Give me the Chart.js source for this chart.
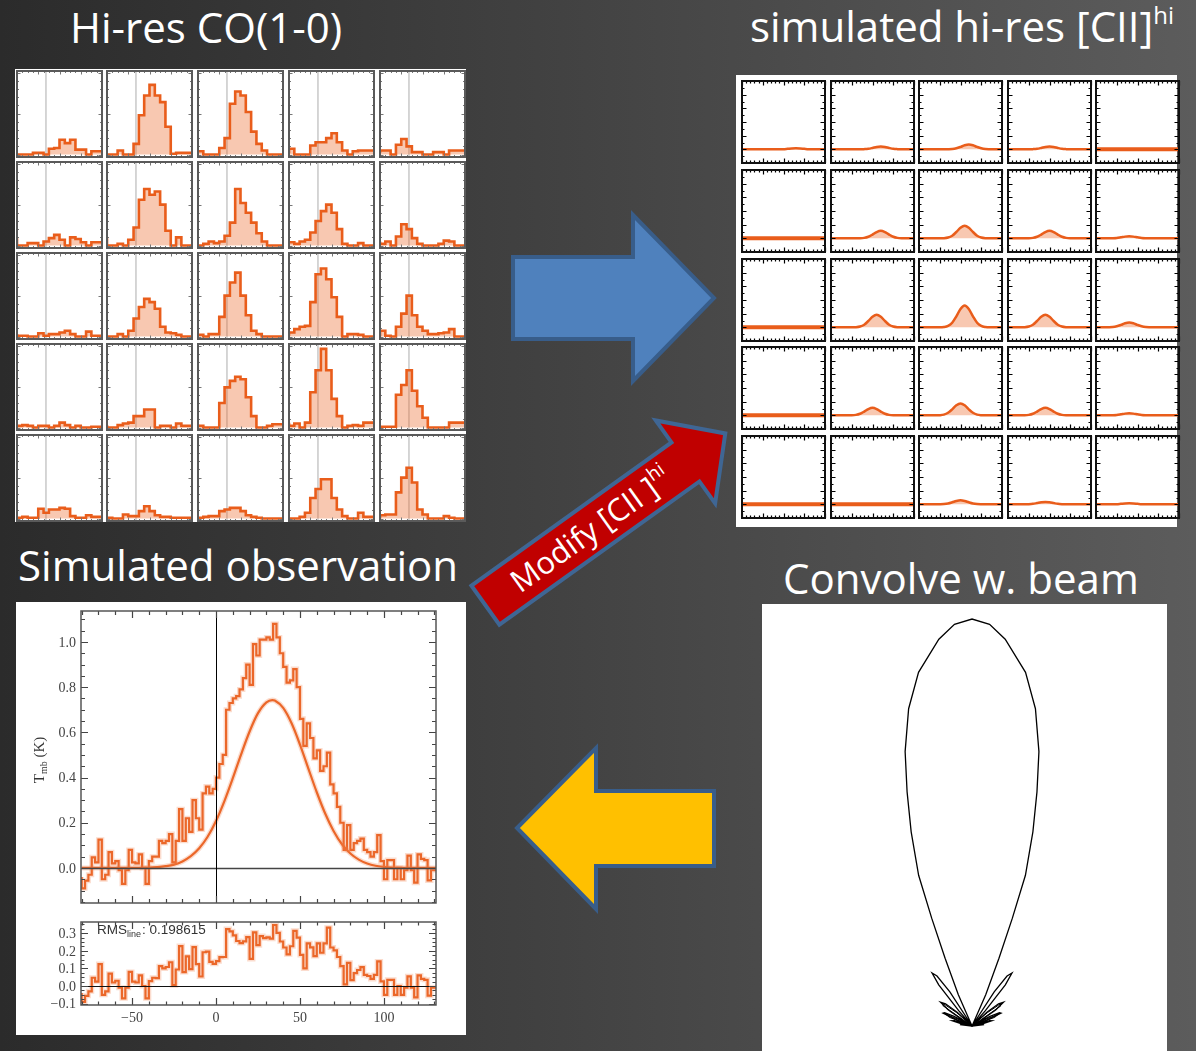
<!DOCTYPE html>
<html lang="en">
<head>
<meta charset="utf-8">
<title>[CII] line modelling</title>
<script src="https://cdn.jsdelivr.net/npm/chart.js"></script>
<style>
  html, body { margin: 0; padding: 0; }
  body {
    position: relative; width: 1196px; height: 1051px; overflow: hidden;
    background: linear-gradient(90deg, #2b2b2b 0%, #5c5c5c 100%);
  }
  .panel { position: absolute; background: #fff; }
  canvas { position: absolute; }
  #deco { position: absolute; left: 0; top: 0; }
  #deco text { font-family: 'Open Sans', sans-serif; fill: #fff; }
</style>
</head>
<body>
<svg id="deco" width="1196" height="1051">
  <text x="70" y="43" font-size="42">Hi-res CO(1-0)</text>
  <text x="750" y="42" font-size="42">simulated hi-res [CII]<tspan font-size="24" dy="-18">hi</tspan></text>
  <text x="18" y="581" font-size="42">Simulated observation</text>
  <text x="783" y="594" font-size="42">Convolve w. beam</text>
  <polygon points="513,257 633,257 633,215 714,298 633,381 633,339 513,339" fill="#4f81bd" stroke="#385d8a" stroke-width="4"/>
  <polygon points="714,791 596,791 596,748 517,828 596,909 596,866 714,866" fill="#ffc000" stroke="#385d8a" stroke-width="4"/>
  <g transform="translate(483.8 606.3) rotate(-35.6)">
    <polygon points="2,-24 248,-24 248,-51 297,0 248,51 248,24 2,24" fill="#c00000" stroke="#3f6694" stroke-width="4"/>
    <text x="37" y="11" font-size="31">Modify [CII ]<tspan font-size="19" dy="-14">hi</tspan></text>
  </g>
</svg>
<div class="panel" style="left:15px;top:69px;width:451px;height:453px"></div>
<div class="panel" style="left:736px;top:75px;width:441px;height:452px"></div>
<div class="panel" style="left:16px;top:602px;width:450px;height:433px"></div>
<div class="panel" style="left:762px;top:604px;width:405px;height:447px"></div>
<script>
// ---- hi-res CO(1-0) spectra, 5x5 map, 16 channels each (fraction of panel height)
const coZeroChan = 5.45;
const coRow1 = [
  [0.01, 0, 0, 0, 0.02, 0.02, 0, 0.07, 0.08, 0.18, 0.14, 0.18, 0.06, 0.06, 0, 0.04],
  [0, 0, 0, 0.05, 0, 0, 0.13, 0.48, 0.72, 0.85, 0.72, 0.64, 0.34, 0.01, 0.02, 0.02],
  [0.04, 0.04, 0, 0, 0, 0.08, 0.2, 0.62, 0.77, 0.72, 0.52, 0.28, 0.13, 0.05, 0, 0],
  [0.02, 0.07, 0, 0, 0, 0.11, 0.15, 0.15, 0.2, 0.26, 0.15, 0.05, 0, 0.04, 0.05, 0.05],
  [0.02, 0.05, 0.05, 0, 0.12, 0.19, 0.1, 0.03, 0.03, 0, 0, 0.03, 0.03, 0, 0.05, 0.05]
];
const coRow2 = [
  [0.09, 0, 0, 0.03, 0.03, 0, 0.05, 0.09, 0.13, 0.07, 0, 0.1, 0.08, 0.04, 0, 0.04],
  [0.09, 0, 0, 0.02, 0, 0.07, 0.22, 0.56, 0.69, 0.62, 0.66, 0.5, 0.18, 0, 0.1, 0],
  [0, 0, 0.02, 0.05, 0.03, 0.05, 0.12, 0.28, 0.69, 0.52, 0.4, 0.28, 0.15, 0.05, 0, 0],
  [0.05, 0.04, 0.02, 0.05, 0.07, 0.16, 0.3, 0.42, 0.5, 0.4, 0.2, 0.02, 0, 0, 0.03, 0],
  [0.05, 0.02, 0.05, 0, 0.11, 0.26, 0.2, 0.09, 0.02, 0, 0, 0, 0.02, 0.06, 0.05, 0]
];
const coRow3 = [
  [0.03, 0.01, 0.01, 0, 0, 0.04, 0.01, 0.03, 0.03, 0.05, 0.07, 0.03, 0, 0, 0.06, 0.01],
  [0, 0, 0, 0.03, 0, 0.07, 0.22, 0.36, 0.46, 0.42, 0.34, 0.12, 0.05, 0.04, 0.02, 0],
  [0.02, 0.02, 0, 0.03, 0.03, 0.24, 0.5, 0.66, 0.78, 0.5, 0.26, 0.07, 0.03, 0, 0, 0],
  [0.01, 0.05, 0.09, 0.12, 0.13, 0.42, 0.76, 0.83, 0.7, 0.48, 0.24, 0, 0.03, 0.03, 0.02, 0],
  [0, 0.07, 0.01, 0, 0.12, 0.28, 0.5, 0.26, 0.12, 0.07, 0.03, 0.03, 0.04, 0.05, 0.09, 0]
];
const coRow4 = [
  [0, 0.02, 0.03, 0.02, 0, 0.02, 0.02, 0, 0.02, 0.06, 0.03, 0, 0.02, 0, 0, 0.01],
  [0.03, 0, 0, 0.03, 0.05, 0.06, 0.14, 0.14, 0.22, 0.22, 0, 0.02, 0.02, 0, 0.05, 0.02],
  [0.04, 0.02, 0, 0, 0, 0.3, 0.49, 0.57, 0.62, 0.59, 0.37, 0.14, 0, 0, 0.02, 0.04],
  [0.06, 0.02, 0.05, 0, 0.06, 0.43, 0.7, 0.96, 0.7, 0.35, 0.14, 0, 0.02, 0.03, 0.02, 0.06],
  [0.01, 0.01, 0.01, 0.01, 0.4, 0.52, 0.7, 0.45, 0.26, 0.12, 0, 0, 0, 0, 0.06, 0.06]
];
const coRow5 = [
  [0.01, 0.01, 0.02, 0.01, 0.01, 0.12, 0.07, 0.11, 0.11, 0.13, 0.12, 0.03, 0.01, 0.01, 0.04, 0.02],
  [0.02, 0.01, 0, 0, 0.05, 0.03, 0.03, 0.09, 0.15, 0.09, 0.04, 0.02, 0.02, 0.01, 0.01, 0.01],
  [0.01, 0.01, 0.02, 0.03, 0.03, 0.09, 0.11, 0.13, 0.13, 0.09, 0.04, 0.02, 0.01, 0, 0, 0],
  [0, 0, 0, 0.02, 0.07, 0.25, 0.36, 0.48, 0.48, 0.25, 0.11, 0.03, 0, 0, 0.07, 0.02],
  [0, 0.04, 0.05, 0.05, 0.32, 0.5, 0.62, 0.44, 0.11, 0.05, 0, 0, 0, 0.03, 0.01, 0]
];

// ---- simulated hi-res [CII] profiles, sampled every 0.05 of the band
const ciiX = [0, 0.05, 0.1, 0.15, 0.2, 0.25, 0.3, 0.35, 0.4, 0.45, 0.5, 0.55, 0.6, 0.65, 0.7, 0.75, 0.8, 0.85, 0.9, 0.95, 1];
const ciiFlat = [0, 0, 0, 0, 0, 0, 0, 0, 0, 0, 0, 0, 0, 0, 0, 0, 0, 0, 0, 0, 0];
const ciiRow1 = [
  [0, 0, 0, 0, 0, 0, 0, 0, 0, .001, .003, .008, .013, .015, .013, .008, .003, .001, 0, 0, 0],
  [0, 0, 0, 0, 0, 0, 0, .001, .003, .008, .02, .034, .04, .034, .02, .008, .003, .001, 0, 0, 0],
  [0, 0, 0, 0, 0, 0, 0, .001, .004, .015, .035, .059, .07, .059, .035, .015, .004, .001, 0, 0, 0],
  [0, 0, 0, 0, 0, .001, .003, .008, .02, .034, .04, .034, .02, .008, .003, .001, 0, 0, 0, 0, 0],
  ciiFlat
];
const ciiRow2 = [
  ciiFlat,
  [0, 0, 0, 0, 0, 0, 0, .001, .007, .023, .055, .092, .11, .092, .055, .023, .007, .001, 0, 0, 0],
  [0, 0, 0, 0, 0, 0, .002, .012, .039, .093, .155, .185, .155, .093, .039, .012, .002, 0, 0, 0, 0],
  [0, 0, 0, 0, 0, .001, .007, .023, .055, .092, .11, .092, .055, .023, .007, .001, 0, 0, 0, 0, 0],
  [0, 0, 0, 0, .002, .006, .015, .025, .03, .025, .015, .006, .002, 0, 0, 0, 0, 0, 0, 0, 0]
];
const ciiRow3 = [
  ciiFlat,
  [0, 0, 0, 0, 0, 0, .002, .012, .039, .093, .155, .185, .155, .093, .039, .012, .002, 0, 0, 0, 0],
  [0, 0, 0, 0, 0, 0, .004, .02, .067, .16, .269, .32, .269, .16, .067, .02, .004, 0, 0, 0, 0],
  [0, 0, 0, 0, .002, .012, .039, .093, .155, .185, .155, .093, .039, .012, .002, 0, 0, 0, 0, 0, 0],
  [0, 0, 0, .001, .004, .015, .035, .059, .07, .059, .035, .015, .004, .001, 0, 0, 0, 0, 0, 0, 0]
];
const ciiRow4 = [
  ciiFlat,
  [0, 0, 0, 0, 0, .001, .007, .023, .055, .092, .11, .092, .055, .023, .007, .001, 0, 0, 0, 0, 0],
  [0, 0, 0, 0, 0, .002, .011, .037, .088, .147, .175, .147, .088, .037, .011, .002, 0, 0, 0, 0, 0],
  [0, 0, 0, 0, .001, .007, .023, .055, .092, .11, .092, .055, .023, .007, .001, 0, 0, 0, 0, 0, 0],
  [0, 0, 0, 0, .002, .006, .015, .025, .03, .025, .015, .006, .002, 0, 0, 0, 0, 0, 0, 0, 0]
];
const ciiRow5 = [
  ciiFlat,
  ciiFlat,
  [0, 0, 0, 0, 0, .001, .004, .013, .03, .05, .06, .05, .03, .013, .004, .001, 0, 0, 0, 0, 0],
  [0, 0, 0, 0, 0, .002, .007, .018, .029, .035, .029, .018, .007, .002, 0, 0, 0, 0, 0, 0, 0],
  [0, 0, 0, 0, .001, .003, .008, .013, .015, .013, .008, .003, .001, 0, 0, 0, 0, 0, 0, 0, 0]
];

// ---- simulated observation: 2 km/s channels starting at -80 km/s
const chanStart = -80;
const chanWidth = 2;
const obsTmb = [
  -0.04, -0.09, -0.056, -0.03, 0.047, 0.025, 0.125, -0.05, -0.03, 0.07,
  0.02, 0.03, -0.01, -0.07, -0.01, 0.08, 0.025, 0.02, 0.06, 0.0,
  -0.07, 0.03, 0.05, 0.05, 0.12, 0.11, 0.12, 0.15, 0.025, 0.12,
  0.26, 0.12, 0.22, 0.16, 0.30, 0.22, 0.17, 0.33, 0.36, 0.33,
  0.35, 0.40, 0.46, 0.50, 0.70, 0.73, 0.75, 0.76, 0.79, 0.84,
  0.90, 0.81, 0.99, 0.94, 1.01, 1.01, 1.02, 1.01, 1.08, 1.02,
  0.95, 0.89, 0.82, 0.83, 0.88, 0.80, 0.66, 0.54, 0.64, 0.575,
  0.485, 0.52, 0.43, 0.45, 0.51, 0.37, 0.33, 0.27, 0.20, 0.08,
  0.19, 0.08, 0.11, 0.12, 0.13, 0.08, 0.07, 0.05, 0.07, 0.145,
  0.03, -0.05, 0.035, 0.035, -0.05, 0.0, -0.05, -0.01, 0.055, -0.01,
  -0.065, 0.06, 0.04, 0.035, -0.055, -0.01
];
const residTmb = [
  -0.04, -0.09, -0.056, -0.03, 0.047, 0.025, 0.125, -0.05, -0.03, 0.07,
  0.02, 0.03, -0.01, -0.07, -0.01, 0.08, 0.025, 0.02, 0.06, 0.0,
  -0.07, 0.028, 0.047, 0.045, 0.113, 0.10, 0.108, 0.135, 0.005, 0.094,
  0.227, 0.079, 0.168, 0.096, 0.221, 0.124, 0.054, 0.192, 0.196, 0.137,
  0.126, 0.141, 0.164, 0.165, 0.324, 0.311, 0.288, 0.256, 0.244, 0.254,
  0.278, 0.154, 0.305, 0.232, 0.284, 0.272, 0.277, 0.269, 0.347, 0.302,
  0.253, 0.219, 0.18, 0.226, 0.314, 0.275, 0.177, 0.10, 0.243, 0.22,
  0.17, 0.243, 0.189, 0.242, 0.332, 0.219, 0.203, 0.165, 0.113, 0.009,
  0.132, 0.034, 0.073, 0.091, 0.107, 0.063, 0.057, 0.04, 0.063, 0.14,
  0.026, -0.05, 0.035, 0.035, -0.05, 0.0, -0.05, -0.01, 0.055, -0.01,
  -0.065, 0.06, 0.04, 0.035, -0.055, -0.01
];
const fitVel = [-80, -40, -35, -30, -25, -20, -15, -10, -5, 0, 5, 10, 15, 20, 25, 30, 33.5, 35,
  40, 45, 50, 55, 60, 65, 70, 75, 80, 85, 90, 95, 100, 105, 110, 131];
const fitTmb = [0, 0.002, 0.004, 0.008, 0.015, 0.029, 0.052, 0.087, 0.138, 0.208, 0.296, 0.397, 0.504, 0.604, 0.685, 0.733, 0.743, 0.741,
  0.708, 0.640, 0.546, 0.440, 0.335, 0.241, 0.164, 0.105, 0.064, 0.037, 0.020, 0.010, 0.005, 0.002, 0.001, 0];
const velTicks = [-50, 0, 50, 100];
const tmbTicks = [0, 0.2, 0.4, 0.6, 0.8, 1.0];
const residTicks = [-0.1, 0, 0.1, 0.2, 0.3];
const rmsLine = '0.198615';

// ---- beam power pattern (angle from boresight in degrees, normalised gain)
const beamAngle = [-86, -83, -80, -77, -75, -73, -70, -68, -66, -64, -62, -60, -59, -56, -53, -50, -47, -45,
  -42, -41, -39, -37, -35, -33, -31, -25, -23.6, -21.7, -20.5, -19.5, -17.4, -15.5, -13.7, -11.3, -8.6, -4.9, -2.5,
  0, 2.5, 4.9, 8.6, 11.3, 13.7, 15.5, 17.4, 19.5, 20.5, 21.7, 23.6, 25, 31, 33, 35, 37, 39, 41, 42,
  45, 47, 50, 53, 56, 59, 60, 62, 64, 66, 68, 70, 73, 75, 77, 80, 83, 86];
const beamGain = [0, 0.03, 0, 0.03, 0.05, 0.045, 0, 0.04, 0.078, 0.075, 0.05, 0, 0.02, 0.07, 0.097, 0.085, 0.05, 0,
  0, 0.05, 0.13, 0.163, 0.15, 0.1, 0, 0, 0.084, 0.179, 0.283, 0.393, 0.5, 0.597, 0.694, 0.795, 0.879, 0.954, 0.988,
  1, 0.988, 0.954, 0.879, 0.795, 0.694, 0.597, 0.5, 0.393, 0.283, 0.179, 0.084, 0, 0, 0.1, 0.15, 0.163, 0.13, 0.05, 0,
  0, 0.05, 0.085, 0.097, 0.07, 0.02, 0, 0.05, 0.075, 0.078, 0.04, 0, 0.045, 0.05, 0.03, 0, 0.03, 0];
const beamCut2Angle = [-72, -69, -66, -63, -61, -58, -55, -52, -49, -46, 0, 46, 49, 52, 55, 58, 61, 63, 66, 69, 72];
const beamCut2Gain = [0, 0.06, 0.07, 0.03, 0, 0, 0.085, 0.09, 0.05, 0, 0, 0, 0.05, 0.09, 0.085, 0, 0, 0.03, 0.07, 0.06, 0];

const ORANGE = '#e95d1b';
const HALO = 'rgba(240,130,80,0.28)';
const PEACH = 'rgba(236,110,50,0.38)';
const SERIF = '"Liberation Serif", "Times New Roman", serif';

function range(a, b, step) {
  const out = [];
  for (let v = a; v <= b + 1e-9; v += step) out.push(+v.toFixed(4));
  return out;
}
const near = (list, v) => list.some(m => Math.abs(m - v) < 1e-6);
const minus = s => String(s).replace('-', '\u2212');

function addCanvas(left, top, w, h) {
  const c = document.createElement('canvas');
  c.width = w; c.height = h;
  c.style.left = left + 'px';
  c.style.top = top + 'px';
  document.body.appendChild(c);
  return c;
}

// frame with inward ticks on all four sides, optional zero lines and tick labels
function framePlugin(spec) {
  return {
    id: 'frame',
    afterDatasetsDraw(chart) {
      const { ctx, chartArea: a } = chart;
      const x = chart.scales.x, y = chart.scales.y;
      ctx.save();
      if (spec.zeroY) {
        const py = Math.round(y.getPixelForValue(0)) + 0.5;
        ctx.strokeStyle = spec.zeroY.color; ctx.lineWidth = spec.zeroY.width;
        ctx.beginPath(); ctx.moveTo(a.left, py); ctx.lineTo(a.right, py); ctx.stroke();
      }
      if (spec.zeroX) {
        const px = Math.round(x.getPixelForValue(0)) + 0.5;
        ctx.strokeStyle = spec.zeroX.color; ctx.lineWidth = spec.zeroX.width;
        ctx.beginPath(); ctx.moveTo(px, a.top); ctx.lineTo(px, a.bottom); ctx.stroke();
      }
      ctx.strokeStyle = spec.tickColor; ctx.lineWidth = spec.tickWidth;
      ctx.beginPath();
      spec.xTicks.forEach(v => {
        const px = Math.round(x.getPixelForValue(v)) + 0.5;
        const len = near(spec.xMajor, v) ? spec.majorLen : spec.minorLen;
        ctx.moveTo(px, a.bottom); ctx.lineTo(px, a.bottom - len);
        ctx.moveTo(px, a.top); ctx.lineTo(px, a.top + len);
      });
      spec.yTicks.forEach(v => {
        const py = Math.round(y.getPixelForValue(v)) + 0.5;
        const len = near(spec.yMajor, v) ? spec.majorLen : spec.minorLen;
        ctx.moveTo(a.left, py); ctx.lineTo(a.left + len, py);
        ctx.moveTo(a.right, py); ctx.lineTo(a.right - len, py);
      });
      ctx.stroke();
      ctx.strokeStyle = spec.color; ctx.lineWidth = spec.width;
      ctx.strokeRect(a.left, a.top, a.right - a.left, a.bottom - a.top);

      ctx.fillStyle = '#444';
      ctx.font = '14px ' + SERIF;
      if (spec.yLabels) {
        ctx.textAlign = 'right'; ctx.textBaseline = 'middle';
        spec.yLabels.forEach(v => ctx.fillText(minus(v.toFixed(1)), a.left - 5, y.getPixelForValue(v) + 1));
      }
      if (spec.xLabels) {
        ctx.textAlign = 'center'; ctx.textBaseline = 'top';
        spec.xLabels.forEach(v => ctx.fillText(minus(v), x.getPixelForValue(v), a.bottom + 6));
      }
      ctx.restore();
    }
  };
}

function baseOptions(padding, xMin, xMax, yMin, yMax) {
  return {
    responsive: false, animation: false, events: [],
    layout: { padding },
    plugins: { legend: { display: false }, tooltip: { enabled: false } },
    scales: {
      x: { type: 'linear', min: xMin, max: xMax, display: false },
      y: { min: yMin, max: yMax, display: false }
    }
  };
}

// CO(1-0) map
[coRow1, coRow2, coRow3, coRow4, coRow5].forEach((row, r) => row.forEach((bins, c) => {
  const fx = 16.5 + 90.9 * c, fy = 70.5 + 91.2 * r;
  const cv = addCanvas(Math.round(fx) - 2, Math.round(fy) - 2, 89, 90);
  const pts = bins.map((v, i) => ({ x: i, y: v }));
  pts.push({ x: bins.length, y: bins[bins.length - 1] });
  new Chart(cv, {
    type: 'line',
    data: { datasets: [
      { data: pts, stepped: 'after', fill: 'origin', backgroundColor: PEACH,
        borderColor: ORANGE, borderWidth: 2.6, pointRadius: 0, order: 1 },
      { data: [{ x: coZeroChan, y: -1 }, { x: coZeroChan, y: 2 }],
        borderColor: '#c8c8c8', borderWidth: 1.5, pointRadius: 0, order: 2 }
    ] },
    options: baseOptions(2, 0, bins.length, -0.03, 1.02),
    plugins: [framePlugin({
      color: '#5a5a5a', width: 2, tickColor: '#777', tickWidth: 1,
      xTicks: range(0, 16, 1), xMajor: [0, 4, 8, 12, 16],
      yTicks: range(0, 1, 0.1), yMajor: [0, 0.5, 1],
      majorLen: 3.5, minorLen: 2
    })]
  });
}));

// [CII] map
[ciiRow1, ciiRow2, ciiRow3, ciiRow4, ciiRow5].forEach((row, r) => row.forEach((vals, c) => {
  const fx = 742.3 + 88.4 * c, fy = 81.3 + 88.6 * r;
  const cv = addCanvas(Math.round(fx) - 2, Math.round(fy) - 2, 87, 86);
  const flat = vals.every(v => v === 0);
  new Chart(cv, {
    type: 'line',
    data: { datasets: [{
      data: vals.map((v, i) => ({ x: ciiX[i], y: v })),
      cubicInterpolationMode: 'monotone', fill: 'origin', backgroundColor: PEACH,
      borderColor: ORANGE, borderWidth: flat ? 4 : 2.5, pointRadius: 0
    }] },
    options: baseOptions(2, 0, 1, -0.2, 1.0),
    plugins: [framePlugin({
      color: '#111', width: 2, tickColor: '#000', tickWidth: 1.2,
      xTicks: range(0, 1, 0.05), xMajor: [0, 0.25, 0.5, 0.75, 1],
      yTicks: range(-0.2, 1, 0.1), yMajor: [0, 0.2, 0.4, 0.6, 0.8, 1],
      majorLen: 4.5, minorLen: 2.5
    })]
  });
}));

// observed spectrum with Gaussian fit
const stepPts = vals => {
  const pts = vals.map((t, k) => ({ x: chanStart + chanWidth * k, y: t }));
  pts.push({ x: chanStart + chanWidth * vals.length, y: vals[vals.length - 1] });
  return pts;
};
const fitPts = fitVel.map((v, i) => ({ x: v, y: fitTmb[i] }));
const line = (data, color, width, extra) =>
  Object.assign({ data, borderColor: color, borderWidth: width, pointRadius: 0, fill: false }, extra);

const tmbTitle = {
  id: 'tmbTitle',
  afterDraw(chart) {
    const ctx = chart.ctx;
    ctx.save();
    ctx.translate(25, 159);
    ctx.rotate(-Math.PI / 2);
    ctx.fillStyle = '#333';
    const big = '15px ' + SERIF, small = '10px ' + SERIF;
    ctx.font = big;
    const wT = ctx.measureText('T').width, wK = ctx.measureText(' (K)').width;
    ctx.font = small;
    const wS = ctx.measureText('mb').width;
    const x0 = -(wT + wS + wK) / 2;
    ctx.font = big; ctx.fillText('T', x0, 5);
    ctx.font = small; ctx.fillText('mb', x0 + wT, 8);
    ctx.font = big; ctx.fillText(' (K)', x0 + wT + wS, 5);
    ctx.restore();
  }
};

new Chart(addCanvas(14, 601, 455, 305), {
  type: 'line',
  data: { datasets: [
    line(stepPts(obsTmb), HALO, 5, { stepped: 'after' }),
    line(fitPts, HALO, 5, { cubicInterpolationMode: 'monotone' }),
    line(stepPts(obsTmb), ORANGE, 2.2, { stepped: 'after' }),
    line(fitPts, ORANGE, 2.2, { cubicInterpolationMode: 'monotone' })
  ] },
  options: baseOptions({ left: 67, right: 33, top: 10, bottom: 3 }, -80.4, 131, -0.155, 1.137),
  plugins: [framePlugin({
    color: '#555', width: 1.5, tickColor: '#444', tickWidth: 1.2,
    xTicks: range(-80, 130, 10), xMajor: velTicks,
    yTicks: range(-0.15, 1.1, 0.05), yMajor: tmbTicks,
    majorLen: 7, minorLen: 4,
    zeroY: { color: '#444', width: 1.5 }, zeroX: { color: '#000', width: 1 },
    yLabels: tmbTicks
  }), tmbTitle]
});

// residual panel
const rmsLabel = {
  id: 'rmsLabel',
  afterDraw(chart) {
    const ctx = chart.ctx;
    ctx.save();
    ctx.fillStyle = '#333';
    const big = '13.5px "Liberation Sans", Arial, sans-serif', small = '9px "Liberation Sans", Arial, sans-serif';
    let x = 83;
    ctx.font = big; ctx.fillText('RMS', x, 26); x += ctx.measureText('RMS').width;
    ctx.font = small; ctx.fillText('line', x, 29); x += ctx.measureText('line').width;
    ctx.font = big; ctx.fillText(': ' + rmsLine, x + 1, 26);
    ctx.restore();
  }
};

new Chart(addCanvas(14, 908, 455, 128), {
  type: 'line',
  data: { datasets: [
    line(stepPts(residTmb), HALO, 5, { stepped: 'after' }),
    line(stepPts(residTmb), ORANGE, 2.2, { stepped: 'after' })
  ] },
  options: baseOptions({ left: 67, right: 33, top: 14, bottom: 31 }, -80.4, 131, -0.108, 0.364),
  plugins: [framePlugin({
    color: '#555', width: 1.5, tickColor: '#444', tickWidth: 1.2,
    xTicks: range(-80, 130, 10), xMajor: velTicks,
    yTicks: range(-0.1, 0.35, 0.025), yMajor: residTicks,
    majorLen: 7, minorLen: 3.5,
    zeroY: { color: '#111', width: 1.2 },
    yLabels: residTicks, xLabels: velTicks
  }), rmsLabel]
});

// beam pattern, polar angle/gain drawn in the plane
const polar = (ang, gain) => ang.map((a, i) => {
  const t = a * Math.PI / 180;
  return { x: gain[i] * Math.sin(t), y: gain[i] * Math.cos(t) };
});
new Chart(addCanvas(762, 604, 405, 447), {
  type: 'scatter',
  data: { datasets: [
    { data: polar(beamAngle, beamGain), showLine: true, borderColor: '#000', borderWidth: 1.3, pointRadius: 0 },
    { data: polar(beamCut2Angle, beamCut2Gain), showLine: true, borderColor: '#000', borderWidth: 1, pointRadius: 0 }
  ] },
  options: {
    responsive: false, animation: false, events: [],
    layout: { padding: 0 },
    plugins: { legend: { display: false }, tooltip: { enabled: false } },
    scales: {
      x: { min: -0.516, max: 0.479, display: false },
      y: { min: -0.0614, max: 1.0369, display: false }
    }
  }
});
</script>
</body>
</html>
